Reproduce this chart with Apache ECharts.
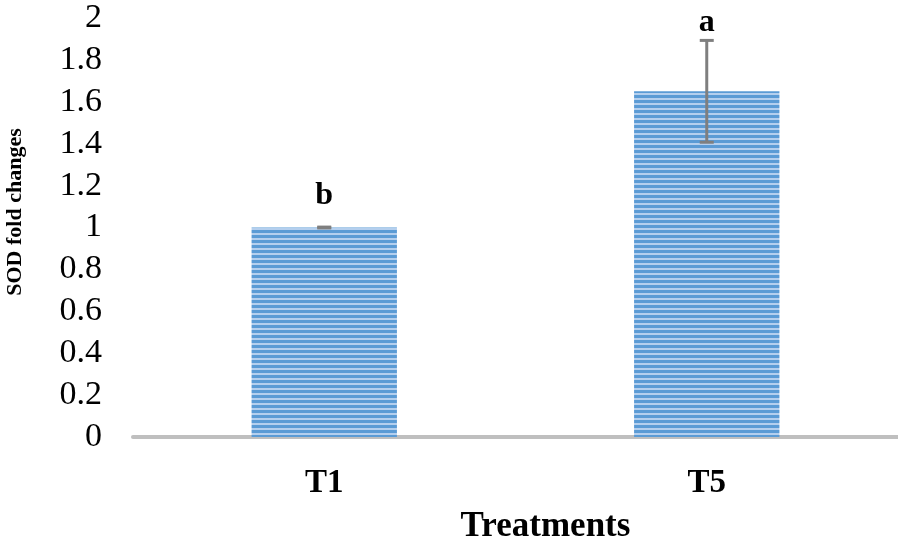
<!DOCTYPE html>
<html><head><meta charset="utf-8">
<script src="https://cdn.jsdelivr.net/npm/echarts@6/dist/echarts.min.js"></script>
<style>html,body{margin:0;padding:0;background:#fff}#c{width:898px;height:549px}</style>
</head><body><div id="c"></div>
<script>
var categories = ['T1', 'T5'];
var means = [1.0, 1.65];
var errors = [0.002, 0.243];
var letters = ['b', 'a'];
var yTicks = [0, 0.2, 0.4, 0.6, 0.8, 1, 1.2, 1.4, 1.6, 1.8, 2];

var pc = document.createElement('canvas');
pc.width = 4; pc.height = 5;
var px = pc.getContext('2d');
px.fillStyle = '#5b9bd5'; px.fillRect(0, 0, 4, 5);
px.fillStyle = '#b4cfee'; px.fillRect(0, 3, 4, 2);

var chart = echarts.init(document.getElementById('c'));
var letterGap = [15, 2];
chart.setOption({
  animation: false,
  grid: {left: 133, right: 0, top: 18, bottom: 112, containLabel: false, outerBoundsMode: 'none'},
  xAxis: {
    type: 'category', data: categories,
    axisLine: {lineStyle: {color: '#bfbfbf', width: 4}},
    axisTick: {show: false},
    axisLabel: {fontFamily: 'Liberation Serif', fontWeight: 'bold', fontSize: 33, color: '#000', margin: 30},
    name: 'Treatments', nameLocation: 'middle', nameGap: 72,
    nameTextStyle: {fontFamily: 'Liberation Serif', fontWeight: 'bold', fontSize: 35, color: '#000', padding: [0, 0, 0, 60]}
  },
  yAxis: {
    type: 'value', min: 0, max: 2, interval: 0.2,
    axisLine: {show: false}, axisTick: {show: false}, splitLine: {show: false},
    axisLabel: {fontFamily: 'Liberation Serif', fontSize: 34, color: '#000', margin: 31,
      formatter: function (v) { var r = Math.round(v * 10) / 10; return yTicks.indexOf(r) >= 0 ? String(r) : ''; }}
  },
  graphic: [{
    type: 'text', x: 15, y: 212, rotation: Math.PI / 2,
    style: {text: 'SOD fold changes', fontFamily: 'Liberation Serif', fontWeight: 'bold', fontSize: 22, fill: '#000', align: 'center', verticalAlign: 'middle'}
  }],
  series: [{
    type: 'bar', data: means, barWidth: '38%',
    itemStyle: {color: {image: pc, repeat: 'repeat'}}
  }, {
    type: 'custom',
    data: categories.map(function (c, i) { return [i, means[i], errors[i]]; }),
    renderItem: function (params, api) {
      var i = api.value(0), m = api.value(1), e = api.value(2);
      var top = api.coord([i, m + e]), bot = api.coord([i, m - e]);
      var x = top[0], hw = 7;
      var st = {stroke: '#7f7f7f', lineWidth: 3};
      return {type: 'group', children: [
        {type: 'line', shape: {x1: x, y1: top[1], x2: x, y2: bot[1]}, style: st},
        {type: 'line', shape: {x1: x - hw, y1: top[1], x2: x + hw, y2: top[1]}, style: st},
        {type: 'line', shape: {x1: x - hw, y1: bot[1], x2: x + hw, y2: bot[1]}, style: st},
        {type: 'text', x: x, y: top[1] - letterGap[params.dataIndex],
          style: {text: letters[params.dataIndex], fontFamily: 'Liberation Serif', fontWeight: 'bold', fontSize: 32, fill: '#000', align: 'center', verticalAlign: 'bottom'}}
      ]};
    },
    z: 5
  }]
});
</script></body></html>
